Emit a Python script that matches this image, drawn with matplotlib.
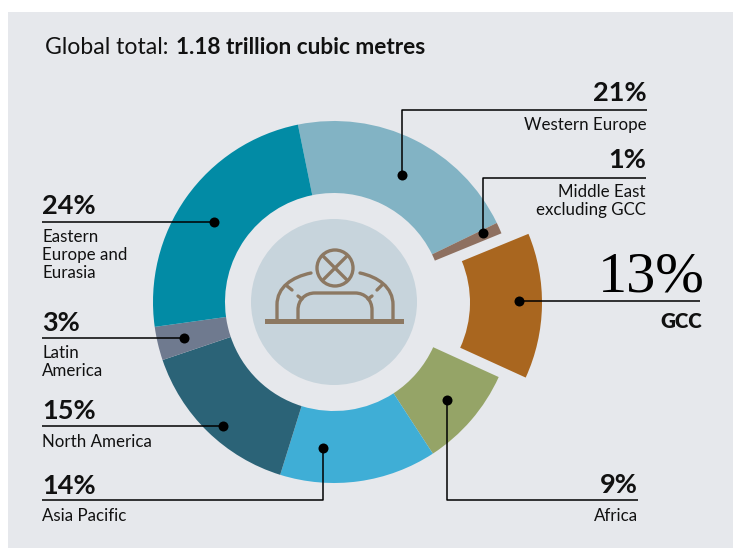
import numpy as np
import matplotlib
matplotlib.use('Agg')
import matplotlib.pyplot as plt
from matplotlib.patches import Rectangle, Circle, PathPatch
from matplotlib.path import Path

# regions, clockwise from the top
regions = ['Western Europe', 'Middle East\nexcluding GCC', 'GCC', 'Africa', 'Asia Pacific',
           'North America', 'Latin\nAmerica', 'Eastern\nEurope and\nEurasia']
shares = [21, 1, 13, 9, 14, 15, 3, 24]
colors = ['#82B3C4', '#8E7060', '#A9661F', '#95A467', '#3FAED6', '#2B6377', '#6F7A8F', '#028BA5']
explode = [0, 0, 27, 0, 0, 0, 0, 0]

plt.rcParams['font.family'] = ['Lato', 'DejaVu Sans']
H = 548
cx, cy = 334, H - 302
ink = '#111111'
icon = '#8C7862'

fig = plt.figure(figsize=(7.33, 5.48), dpi=100, facecolor='white')
ax = fig.add_axes([0, 0, 1, 1])

ax.add_patch(Rectangle((8, 0), 725, H - 12, fc='#E6E8EC', ec='none', zorder=0))

ax.pie(shares, colors=colors, explode=explode, startangle=101.5, counterclock=False,
       radius=181, center=(cx, cy), wedgeprops={'width': 72, 'linewidth': 0}, frame=True)
ax.set_xlim(0, 733)
ax.set_ylim(0, H)
ax.set_aspect('equal')
ax.axis('off')

ax.add_patch(Circle((cx, cy), 83, fc='#C7D4DC', ec='none', zorder=3))


def P(x, y):
    return (x, H - y)


def stroke(points, codes, lw=2.4):
    ax.add_patch(PathPatch(Path([P(*p) for p in points], codes), fc='none', ec=icon, lw=lw,
                           capstyle='round', zorder=4))


M, L, C = Path.MOVETO, Path.LINETO, Path.CURVE4
# icon
ax.add_patch(Rectangle(P(265, 323.5), 139, 5, fc=icon, ec='none', zorder=4))
ax.add_patch(Circle(P(335, 268), 18, fc='none', ec=icon, lw=2.4, zorder=4))
stroke([(323, 256), (347, 280)], [M, L])
stroke([(347, 256), (323, 280)], [M, L])
stroke([(277, 320), (277, 305), (277, 287), (292, 277), (311, 273)], [M, L, C, C, C])
stroke([(393, 320), (393, 305), (393, 287), (378, 277), (360, 273)], [M, L, C, C, C])
stroke([(298, 320), (298, 310), (298, 300), (305, 293), (315, 293), (355, 293), (365, 293), (372, 300),
        (372, 310), (372, 320)], [M, L, C, C, C, L, C, C, C, L])
stroke([(287, 286), (292, 290)], [M, L])
stroke([(382, 285), (377, 290)], [M, L])
stroke([(298, 296), (302, 299)], [M, L])
stroke([(372, 296), (368, 299)], [M, L])


def leader(points, dot):
    xs = [p[0] for p in points]
    ys = [H - p[1] for p in points]
    ax.plot(xs, ys, color='black', lw=1.1, solid_capstyle='butt', zorder=5)
    ax.plot(dot[0], H - dot[1], 'o', color='black', ms=7.2, mew=0, zorder=6)


def pct(x, y, s, ha='left'):
    ax.text(x, H - y, s, fontsize=19.5, fontweight='bold', color=ink, ha=ha, va='baseline', zorder=6)


def name(x, y, s, ha='left'):
    ax.text(x, H - y, s, fontsize=12.2, color=ink, ha=ha, va='top', linespacing=1.16, zorder=6)


leader([(402, 175), (402, 110), (647, 110)], (402, 175))
pct(647, 101, f'{shares[0]}%', 'right')
name(647, 117, regions[0], 'right')

leader([(483, 233), (483, 177.5), (646, 177.5)], (483, 233))
pct(646, 168.5, f'{shares[1]}%', 'right')
name(646, 184, regions[1], 'right')

leader([(519, 301), (700, 301)], (519, 301))
ax.text(705, H - 292, f'{shares[2]}%', fontsize=42, family='Liberation Serif', color='black',
        ha='right', va='baseline', zorder=6)
ax.text(702, H - 328, regions[2], fontsize=14.8, fontweight='heavy', color=ink, ha='right',
        va='baseline', zorder=6)

leader([(447, 400), (447, 500), (638, 500)], (447, 400))
pct(638, 493, f'{shares[3]}%', 'right')
name(638, 508, regions[3], 'right')

leader([(323, 448), (323, 500), (42, 500)], (323, 448))
pct(42, 494, f'{shares[4]}%')
name(42, 508, regions[4])

leader([(223, 426), (42, 426)], (223, 426))
pct(42, 419, f'{shares[5]}%')
name(42, 434, regions[5])

leader([(184, 338), (42, 338)], (184, 338))
pct(42, 331, f'{shares[6]}%')
name(42, 345, regions[6])

leader([(214, 222), (42, 222)], (214, 222))
pct(42, 214, f'{shares[7]}%')
name(42, 229, regions[7])

ax.text(45, H - 54, 'Global total:', fontsize=16.6, color=ink, ha='left', va='baseline', zorder=6)
ax.text(176, H - 54, '1.18 trillion cubic metres', fontsize=16.3, fontweight='bold', color=ink,
        ha='left', va='baseline', zorder=6)

fig.savefig('out.png', dpi=100)
